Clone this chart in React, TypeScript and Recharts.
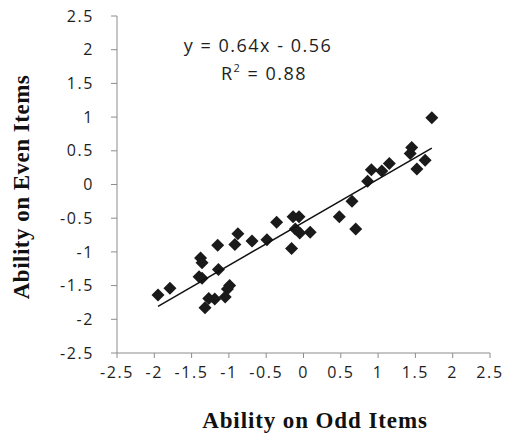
import { ScatterChart, Scatter, XAxis, YAxis } from 'recharts';

// ability estimates, odd items vs even items
const oddAbility = [
  -1.95, -1.79, -1.38, -1.36, -1.4, -1.36, -1.32, -1.27, -1.19, -1.14, -1.15, -1.05,
  -1.02, -0.99, -0.92, -0.88, -0.69, -0.49, -0.36, -0.16, -0.14, -0.06, -0.11, -0.05,
  0.09, 0.48, 0.65, 0.7, 0.86, 0.91, 1.05, 1.15, 1.45, 1.43, 1.52, 1.63, 1.72,
];
const evenAbility = [
  -1.64, -1.54, -1.09, -1.16, -1.37, -1.39, -1.83, -1.69, -1.7, -1.26, -0.9, -1.67,
  -1.55, -1.5, -0.89, -0.73, -0.84, -0.82, -0.56, -0.95, -0.48, -0.48, -0.66, -0.72,
  -0.71, -0.48, -0.25, -0.66, 0.05, 0.22, 0.2, 0.31, 0.55, 0.46, 0.23, 0.36, 0.99,
];
const axisTicks = [-2.5, -2, -1.5, -1, -0.5, 0, 0.5, 1, 1.5, 2, 2.5];

// linear trend line
const slope = 0.64;
const intercept = -0.56;
const rSquared = 0.88;
const fitRange = [-1.95, 1.72];

const points = oddAbility.map((x, i) => ({ x, y: evenAbility[i] }));
const trend = fitRange.map((x) => ({ x, y: slope * x + intercept }));

const axisColor = '#8c8c8c';
const tickStyle = { fontFamily: 'Open Sans', fontSize: 16, fill: '#1e1e1e', letterSpacing: 1.6 };
const titleStyle = { fontFamily: 'Liberation Serif', fontWeight: 'bold' as const, fill: '#111' };

const Diamond = ({ cx, cy }: any) => {
  const r = 6.5;
  return (
    <polygon
      points={`${cx},${cy - r} ${cx + r},${cy} ${cx},${cy + r} ${cx - r},${cy}`}
      fill="#1a1a1a"
    />
  );
};

const App = () => {
  return (
    <div style={{ position: 'absolute', left: 0, top: 0, width: 516, height: 436, background: '#fff' }}>
      <ScatterChart width={516} height={436} margin={{ top: 16, right: 26, bottom: 0, left: 0 }}>
        <XAxis
          type="number"
          dataKey="x"
          domain={[-2.5, 2.5]}
          ticks={axisTicks}
          interval={0}
          height={83}
          tickSize={5}
          tickMargin={9}
          stroke={axisColor}
          tick={tickStyle}
          label={{
            content: () => (
              <text x={315} y={428} textAnchor="middle" fontSize={23} letterSpacing={0.9} style={titleStyle}>
                Ability on Odd Items
              </text>
            ),
          }}
        />
        <YAxis
          type="number"
          dataKey="y"
          domain={[-2.5, 2.5]}
          ticks={axisTicks}
          interval={0}
          width={117}
          tickSize={6}
          tickMargin={17}
          stroke={axisColor}
          tick={tickStyle}
          label={{
            content: () => (
              <text
                transform="translate(29,187) rotate(-90)"
                textAnchor="middle"
                fontSize={23}
                letterSpacing={0.5}
                style={titleStyle}
              >
                Ability on Even Items
              </text>
            ),
          }}
        />
        <Scatter data={points} shape={<Diamond />} isAnimationActive={false} />
        <Scatter
          data={trend}
          line={{ stroke: '#111', strokeWidth: 1.5 }}
          shape={() => null}
          isAnimationActive={false}
        />
      </ScatterChart>
      <div
        style={{
          position: 'absolute',
          left: 158,
          top: 31,
          width: 200,
          textAlign: 'center',
          fontFamily: 'Open Sans',
          fontSize: 18,
          letterSpacing: 1.5,
          lineHeight: '28px',
          color: '#1e1e1e',
        }}
      >
        <div>y = {slope}x - {Math.abs(intercept)}</div>
        <div style={{ marginLeft: 12 }}>
          R<sup style={{ fontSize: 11, verticalAlign: 'top', lineHeight: '18px' }}>2</sup> = {rSquared}
        </div>
      </div>
    </div>
  );
};

export default App;
